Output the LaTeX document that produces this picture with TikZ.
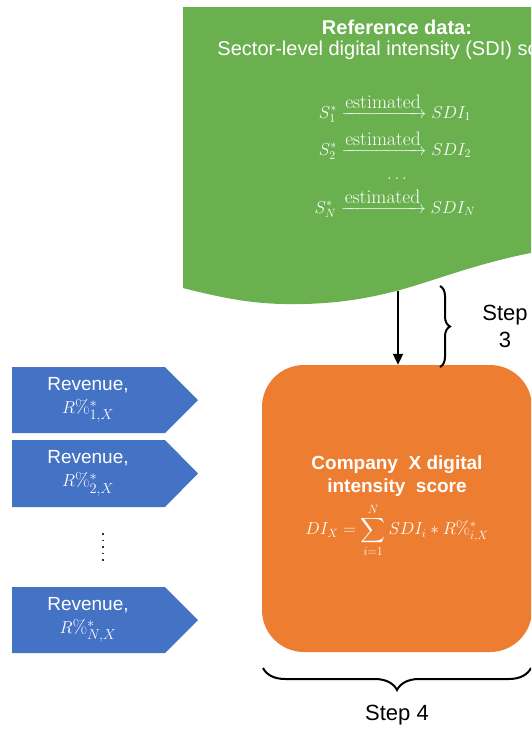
\documentclass[tikz,border=0pt]{standalone}
\usepackage{amsmath}
\usepackage{fontspec}
\newfontfamily\arialfont{Liberation Sans}
\usetikzlibrary{arrows.meta,decorations.pathreplacing}
\definecolor{gfill}{HTML}{6AB04F}
\definecolor{bfill}{HTML}{4472C4}
\definecolor{ofill}{HTML}{ED7D31}
\tikzset{
  revshape/.style={fill=bfill},
  revtxt/.style={text=white,align=center,inner sep=0pt,font=\fontsize{19}{25}\selectfont\arialfont},
  gtxt/.style={text=white,inner sep=0pt,font=\fontsize{20}{24}\selectfont\arialfont},
  gmath/.style={text=white,inner sep=0pt,anchor=base,font=\fontsize{17}{20}\selectfont},
  orbox/.style={fill=ofill,rounded corners=42pt,minimum width=270pt,minimum height=287pt,inner sep=0pt},
  otxt/.style={text=white,align=center,inner sep=0pt,font=\fontsize{19}{23}\selectfont\arialfont\bfseries},
  omath/.style={text=white,inner sep=0pt,font=\fontsize{18.5}{22}\selectfont},
  steptxt/.style={align=center,inner sep=0pt,font=\fontsize{22}{27}\selectfont\arialfont},
  bracestyle/.style={line width=2pt},
}
\newcommand{\estarrow}{\xrightarrow{\mbox{\fontsize{19.5}{22}\selectfont estimated}}}
\begin{document}
\begin{tikzpicture}[x=1pt,y=-1pt]
\useasboundingbox (0,0) rectangle (531,729);
\clip (0,0) rectangle (531,729);
% green document shape
\fill[gfill] (183,7) -- (560,7) -- (560,248)
  .. controls (490,258) and (440,279) .. (400,290)
  .. controls (380,295) and (350,303) .. (303,304)
  .. controls (260,305) and (230,300) .. (183,288) -- cycle;
\node[gtxt,font=\fontsize{20}{24}\selectfont\arialfont\bfseries] (gtitle) at (397,27) {Reference data:};
\node[gtxt] (gsub) at (397,50) {Sector-level digital intensity (SDI) scores};
\node[gmath] (m1) at (395,118) {$S_1^*\estarrow SDI_1$};
\node[gmath] (m2) at (395,155) {$S_2^*\estarrow SDI_2$};
\node[gmath] (m3) at (397,179) {$\ldots$};
\node[gmath] (mN) at (395,213) {$S_N^*\estarrow SDI_N$};
\coordinate (gb) at (398,291);
% orange box
\node[orbox] (comp) at (397,508.5) {};
\node[otxt] (ctitle) at (397,476.5) {Company\ \ X digital\\intensity\ \ score};
\node[omath] (cform) at (397,530) {$\displaystyle DI_X=\sum_{i=1}^{N}SDI_i*R\%^*_{i,X}$};
% arrow
\draw[line width=2pt,-{Triangle[length=11pt,width=10pt]}] (gb) -- (gb |- comp.north);
% step 3 brace
\coordinate (b3t) at (440,286);
\coordinate (b3b) at (440,367);
\draw[bracestyle,decorate,decoration={brace,amplitude=10pt}] (b3t) -- (b3b);
\node[steptxt] (s3) at (505,326) {Step\\3};
% step 4 brace
\coordinate (b4r) at (531,668);
\coordinate (b4l) at (263,668);
\draw[bracestyle,decorate,decoration={brace,amplitude=22pt}] (b4r) -- (b4l);
\node[steptxt] (s4) at (397,715) {Step 4};
% revenue pentagons
\foreach \t/\b/\k in {367/433/1, 440/507/2, 587/653/N}{
  \fill[revshape] (12,\t) -- (165,\t) -- (198,{(\t+\b)/2}) -- (165,\b) -- (12,\b) -- cycle;
  \node[revtxt] (rev\k) at (88,{(\t+\b)/2}) {Revenue,\\[-2pt]$R\%^*_{\k,X}$};
}
% vertical dots
\foreach \yy in {534,540.5,547,553.5,560}{
  \fill[black!80] (101.8,\yy-0.9) rectangle (103.6,\yy+0.9);
}
\end{tikzpicture}
\end{document}
